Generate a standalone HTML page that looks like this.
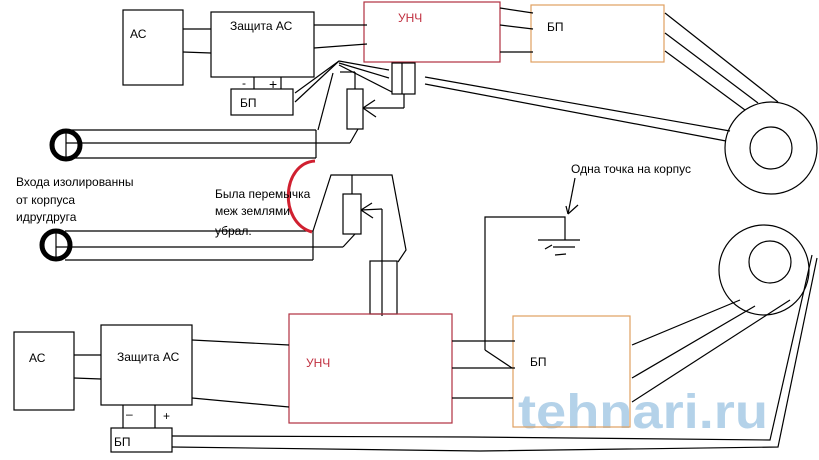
<!DOCTYPE html>
<html><head><meta charset="utf-8"><style>
html,body{margin:0;padding:0;background:#fff;}
svg{display:block;font-family:"Liberation Sans","DejaVu Sans",sans-serif;}
</style></head><body>
<svg width="819" height="460" viewBox="0 0 819 460" xmlns="http://www.w3.org/2000/svg">
<rect width="819" height="460" fill="#fff"/>
<text x="518" y="428" font-size="48" font-weight="bold" fill="#a8cbe6" opacity="0.85" textLength="250" lengthAdjust="spacingAndGlyphs" font-family="Liberation Sans,sans-serif">tehnari.ru</text>
<g fill="none" stroke="#000" stroke-width="1.2">
<rect x="123" y="10" width="60" height="75"/>
<rect x="211" y="12" width="103" height="65"/>
<line x1="183" y1="29" x2="211" y2="29"/><line x1="183" y1="52" x2="211" y2="53"/>
<rect x="364" y="2" width="136" height="60" stroke="#b03040"/>
<rect x="531" y="5" width="133" height="57" stroke="#e0a060"/>
<line x1="314" y1="25" x2="367" y2="25"/><line x1="314" y1="48" x2="367" y2="44"/>
<line x1="500" y1="8" x2="533" y2="13"/><line x1="500" y1="25" x2="533" y2="29"/><line x1="500" y1="52" x2="533" y2="52"/>
<rect x="231" y="89" width="62" height="26"/>
<line x1="254" y1="77" x2="254" y2="89"/><line x1="281" y1="77" x2="281" y2="89"/>
<rect x="392" y="63" width="23" height="31"/><line x1="402" y1="63" x2="402" y2="94"/>
<line x1="339" y1="61" x2="295" y2="93"/><line x1="339" y1="61" x2="295" y2="102"/>
<line x1="339" y1="61" x2="389" y2="70"/><line x1="339" y1="63" x2="389" y2="78"/><line x1="339" y1="65" x2="392" y2="92"/>
<line x1="333" y1="73" x2="318" y2="130"/>
<line x1="340" y1="72" x2="355" y2="72"/><line x1="355" y1="72" x2="355" y2="89"/>
<rect x="347" y="89" width="16" height="40"/>
<line x1="363" y1="108" x2="375" y2="100"/><line x1="363" y1="108" x2="376" y2="117"/><line x1="363" y1="108" x2="404" y2="108"/><line x1="404" y1="108" x2="404" y2="94"/>
<line x1="358" y1="129" x2="350" y2="143"/>
<line x1="70" y1="130" x2="316" y2="130"/><line x1="66" y1="143" x2="350" y2="143"/><line x1="70" y1="158" x2="316" y2="158"/><line x1="316" y1="130" x2="316" y2="158"/>
<line x1="425" y1="77" x2="730" y2="131"/><line x1="425" y1="84" x2="726" y2="141"/>
<line x1="665" y1="13" x2="778" y2="102"/><line x1="665" y1="33" x2="758" y2="103"/><line x1="665" y1="51" x2="745" y2="110"/>
<circle cx="771" cy="148" r="46"/><circle cx="771" cy="148" r="21"/>
<polyline points="313,231 331,175 392,175 406,250 398,262"/>
<line x1="352" y1="175" x2="352" y2="194"/>
<rect x="343" y="194" width="18" height="40"/>
<line x1="361" y1="210" x2="372" y2="203"/><line x1="361" y1="210" x2="373" y2="218"/><line x1="361" y1="210" x2="382" y2="209"/><line x1="382" y1="209" x2="382" y2="316"/>
<line x1="355" y1="234" x2="343" y2="247"/>
<line x1="65" y1="231" x2="313" y2="231"/><line x1="56" y1="247" x2="343" y2="247"/><line x1="65" y1="260" x2="313" y2="260"/><line x1="313" y1="231" x2="313" y2="260"/>
<rect x="370" y="261" width="27" height="53"/>
<polyline points="485,350 485,217 565,217 565,240"/>
<line x1="538" y1="240" x2="580" y2="240"/><line x1="553" y1="247" x2="575" y2="247"/><line x1="545" y1="249" x2="552" y2="245"/><line x1="555" y1="255" x2="566" y2="254"/>
<line x1="575" y1="178" x2="568" y2="214"/><line x1="568" y1="214" x2="578" y2="205"/><line x1="568" y1="214" x2="566" y2="206"/>
<line x1="485" y1="350" x2="512" y2="368"/>
<rect x="14" y="332" width="60" height="78"/>
<rect x="101" y="325" width="91" height="80"/>
<line x1="74" y1="355" x2="101" y2="355"/><line x1="74" y1="378" x2="101" y2="379"/>
<rect x="111" y="428" width="61" height="24"/>
<line x1="123" y1="405" x2="123" y2="428"/><line x1="155" y1="405" x2="155" y2="428"/>
<rect x="289" y="314" width="163" height="109" stroke="#b03040"/>
<line x1="192" y1="340" x2="289" y2="345"/><line x1="192" y1="398" x2="289" y2="407"/>
<rect x="513" y="316" width="117" height="111" stroke="#e0a060"/>
<line x1="452" y1="341" x2="515" y2="341"/><line x1="452" y1="368" x2="515" y2="368"/><line x1="452" y1="398" x2="513" y2="398"/>
<circle cx="764" cy="270" r="45"/><circle cx="770" cy="262" r="21"/>
<line x1="632" y1="345" x2="740" y2="300"/><line x1="632" y1="378" x2="755" y2="306"/><line x1="632" y1="402" x2="790" y2="300"/>
<polyline points="172,436 470,437 770,440 812,255"/>
<polyline points="172,447 480,451 778,447 817,258"/>
</g>
<g fill="none" stroke="#000" stroke-width="5">
<circle cx="66" cy="145" r="14"/><circle cx="56" cy="245" r="14"/>
</g>
<g stroke="#000" stroke-width="1.2"><line x1="66" y1="131" x2="66" y2="158"/><line x1="56" y1="231" x2="56" y2="259"/></g>
<path d="M315,161 C282,163 278,222 312,232" fill="none" stroke="#d02030" stroke-width="3"/>
<g font-size="12" fill="#000">
<text x="130" y="38">АС</text>
<text x="230" y="30">Защита АС</text>
<text x="398" y="22" fill="#c03040">УНЧ</text>
<text x="547" y="31">БП</text>
<text x="240" y="107">БП</text>
<text x="242" y="87">-</text><text x="269" y="89" font-size="14">+</text>
<text x="571" y="173">Одна точка на корпус</text>
<text x="16" y="186">Входа изолированны</text>
<text x="16" y="204">от корпуса</text>
<text x="16" y="221">идругдруга</text>
<text x="215" y="198">Была перемычка</text>
<text x="215" y="215">меж землями</text>
<text x="215" y="235">убрал.</text>
<text x="29" y="362">АС</text>
<text x="117" y="361">Защита АС</text>
<text x="306" y="367" fill="#c03040">УНЧ</text>
<text x="530" y="366">БП</text>
<text x="114" y="446">БП</text>
<text x="126" y="418">–</text><text x="163" y="420">+</text>
</g>
</svg>
</body></html>
